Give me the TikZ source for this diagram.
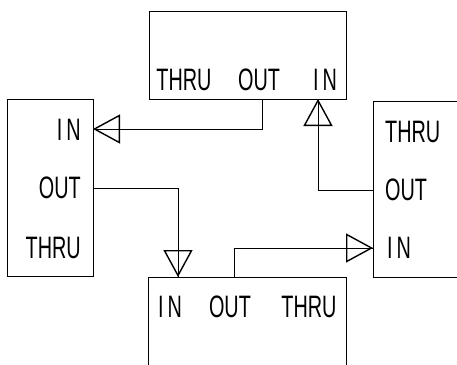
\documentclass[tikz,border=0pt]{standalone}
\usepackage{fontspec}
\newfontfamily\plotfont[FakeStretch=0.64]{Liberation Sans}
\usetikzlibrary{arrows.meta}
\newcommand{\portin}{I\kern4pt N}
\begin{document}
\begin{tikzpicture}[x=1pt,y=-1pt,
  box/.style={draw,line width=0.9pt,inner sep=0pt},
  lbl/.style={inner sep=0pt,font=\plotfont\fontsize{31}{31}\selectfont},
  wire/.style={line width=0.9pt},
  tri/.style={line width=0.9pt,-{Triangle[open,length=27pt,width=29pt,line width=1.4pt]}}]
\useasboundingbox (0,0) rectangle (457,364);
\clip (0,0) rectangle (457,364);
% boxes
\node[box,minimum width=197pt,minimum height=88pt] (top) at (247.5,55) {};
\node[box,minimum width=86pt,minimum height=177pt] (left) at (50,187.5) {};
\node[box,minimum width=100pt,minimum height=176pt] (right) at (423,189) {};
\node[box,minimum width=198pt,minimum height=100pt] (bot) at (247,327) {};
% labels
\node[lbl] (tThru) at (184,80) {THRU};
\node[lbl] (tOut) at (259,80) {OUT};
\node[lbl] (tIn) at (325,80) {\portin};
\node[lbl,anchor=east] (lIn) at (81,130) {\portin};
\node[lbl,anchor=east] (lOut) at (81,188) {OUT};
\node[lbl,anchor=east] (lThru) at (81,248) {THRU};
\node[lbl,anchor=west] (rThru) at (385,132) {THRU};
\node[lbl,anchor=west] (rOut) at (385,190) {OUT};
\node[lbl,anchor=west] (rIn) at (387,248) {\portin};
\node[lbl] (bIn) at (170,307) {\portin};
\node[lbl] (bOut) at (230,307) {OUT};
\node[lbl] (bThru) at (309,307) {THRU};
% ports
\coordinate (pTopOut) at (262,99);
\coordinate (pTopIn) at (318,99);
\coordinate (pLeftIn) at (93,129);
\coordinate (pLeftOut) at (93,188);
\coordinate (pRightOut) at (373,190);
\coordinate (pRightIn) at (373,248);
\coordinate (pBotOut) at (234,277);
\coordinate (pBotIn) at (178,277);
% connectors
\draw[tri] (pTopOut) |- (pLeftIn);
\draw[wire] (pLeftIn) -- ++(27,0);
\draw[tri] (pLeftOut) -| (pBotIn);
\draw[wire] (pBotIn) -- ++(0,-27);
\draw[tri] (pBotOut) |- (pRightIn);
\draw[wire] (pRightIn) -- ++(-27,0);
\draw[tri] (pRightOut) -| (pTopIn);
\draw[wire] (pTopIn) -- ++(0,27);
\end{tikzpicture}
\end{document}
